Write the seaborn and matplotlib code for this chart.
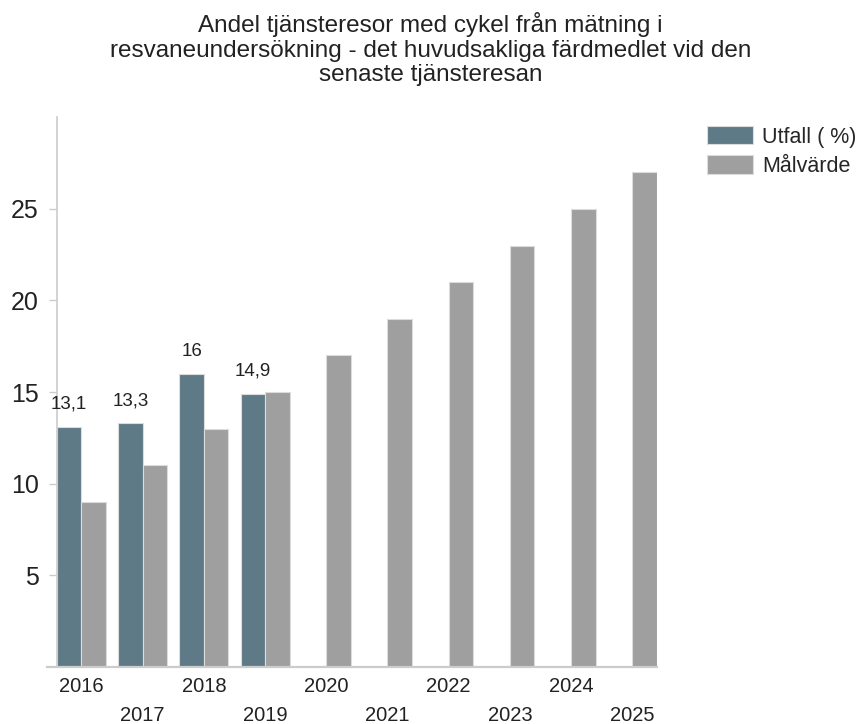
import matplotlib
matplotlib.use("Agg")
import matplotlib.pyplot as plt
import seaborn as sns
import pandas as pd
import numpy as np

years = ["2016", "2017", "2018", "2019", "2020", "2021", "2022", "2023", "2024", "2025"]
utfall = [13.1, 13.3, 16.0, 14.9, np.nan, np.nan, np.nan, np.nan, np.nan, np.nan]
malvarde = [9, 11, 13, 15, 17, 19, 21, 23, 25, 27]
series_names = ["Utfall ( %)", "Målvärde"]
colors = ["#5f7a87", "#9f9f9f"]
title = ("Andel tjänsteresor med cykel från mätning i\n"
         "resvaneundersökning - det huvudsakliga färdmedlet vid den\n"
         "senaste tjänsteresan")

df = pd.DataFrame({
    "År": years * 2,
    "Serie": [series_names[0]] * len(years) + [series_names[1]] * len(years),
    "Värde": utfall + malvarde,
})

sns.set_theme(style="white")
plt.rcParams["font.family"] = ["Liberation Sans", "DejaVu Sans"]

fig = plt.figure(figsize=(8.62, 7.24), dpi=100)
ax = fig.add_axes([0.066, 0.079, 0.696, 0.759])

sns.barplot(data=df, x="År", y="Värde", hue="Serie", palette=colors,
            saturation=1, width=0.8, ax=ax, edgecolor="#dcdcdc",
            linewidth=0.8, legend=True)

ax.set_xlim(-0.4, len(years) - 0.6)
ax.set_ylim(0, 30)
ax.set_yticks([5, 10, 15, 20, 25])
ax.set_xlabel("")
ax.set_ylabel("")

for s in ["top", "right"]:
    ax.spines[s].set_visible(False)
ax.spines["left"].set_color("#cccccc")
ax.spines["bottom"].set_color("#cccccc")
ax.spines["left"].set_linewidth(1.2)
ax.spines["bottom"].set_linewidth(1.6)
ax.spines["bottom"].set_bounds(-0.56, len(years) - 0.6)

ax.tick_params(axis="y", length=6, color="#cccccc", width=1, pad=7,
               labelsize=18, labelcolor="#222222", left=True)
ax.tick_params(axis="x", length=0, pad=7, labelsize=14.5,
               labelcolor="#222222")
for i, t in enumerate(ax.xaxis.get_major_ticks()):
    if i % 2 == 1:
        t.set_pad(7 + 21)

# data labels on Utfall
cont = ax.containers[0]
labels = ["" if np.isnan(v) else f"{v:g}".replace(".", ",") for v in utfall]
for bar, lab in zip(cont, labels):
    if bar is None or lab == "":
        continue
    ax.annotate(lab, (bar.get_x() + bar.get_width() / 2, bar.get_height()),
                xytext=(0, 10), textcoords="offset points", ha="center",
                va="bottom", fontsize=13.5, color="#222222")

ax.set_title(title, fontsize=17.5, color="#222222", pad=26, x=0.623,
             linespacing=1.15)

leg = ax.legend(loc="upper left", bbox_to_anchor=(1.07, 1.0), frameon=False,
                fontsize=15.5, handlelength=2.1, handleheight=0.95,
                labelspacing=0.35, handletextpad=0.45, borderaxespad=0)
for h in leg.legend_handles:
    h.set_edgecolor("#dcdcdc")

fig.savefig("out.png", dpi=100)
